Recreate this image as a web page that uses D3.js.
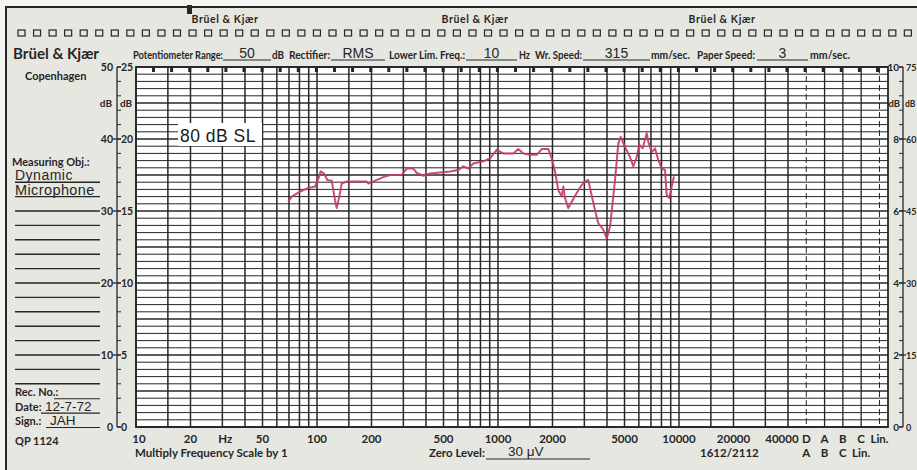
<!DOCTYPE html>
<html><head><meta charset="utf-8">
<script src="https://cdn.jsdelivr.net/npm/d3@7"></script>
<style>body{margin:0;background:#fff;} svg{display:block}</style>
</head><body><svg id="c" width="917" height="470"></svg>
<script>
// ---------- data ----------
const freqHz = [69.4,72.5,80.6,89.5,97.5,101.7,104.8,109.3,114,120.6,125.8,128.5,132.8,136.9,145.9,188.2,192,232.5,253.2,293.8,313,340.4,355.5,386.6,421,543,603.6,643.3,685.5,730.4,829.6,903.4,983.5,1070,1215,1295,1380,1503,1636,1744,1897,1980,2065,2153,2248,2295,2345,2446,2555,2721,2900,3025,3155,3224,3435,3583,3818,3987,4158,4431,4621,4764,5030,5361,5591,5839,6035,6301,6630,6767,7066,7369,7686,8025,8370,8552,8839,9114,9385];
const levelDb = [31.3,32.0,32.7,33.2,33.4,34.5,35.5,35.2,34.3,34.2,31.5,30.4,32.0,33.8,34.1,34.1,33.8,34.7,35.0,35.0,35.9,35.9,35.3,34.9,35.2,35.5,35.7,36.2,35.9,36.6,36.9,37.3,38.5,38.0,38.0,38.6,38.0,37.8,37.8,38.6,38.6,37.3,35.5,32.9,32.0,33.4,31.8,30.4,31.3,32.5,33.6,34.1,34.3,33.2,30.1,28.3,27.4,26.2,27.8,34.3,39.4,40.3,38.9,37.5,36.2,37.5,39.2,38.7,40.8,39.6,38.2,38.7,37.1,35.9,35.7,32.2,31.8,33.4,34.8];
const gridFreqs = [10,15,20,30,40,50,60,70,80,90,100,150,200,300,400,500,600,700,800,900,1000,1500,2000,3000,4000,5000,6000,7000,8000,9000,10000,15000,20000,30000,40000];
const freqLabels = [10,20,50,100,200,500,1000,2000,5000,10000,20000,40000];
const weightCols = ["D","A","B","C","Lin."];
const weightRow2 = ["A","B","C","Lin."];
const leftOuter = [0,10,20,30,40,50];
const leftInner = [0,5,10,15,20,25];
const rightInner = [0,2,4,6,8,10];
const rightOuter = [0,15,30,45,60,75];
const headerFields = [
  {label:"Potentiometer Range:", value:"50", unit:"dB"},
  {label:"Rectifier:", value:"RMS", unit:""},
  {label:"Lower Lim. Freq.:", value:"10", unit:"Hz"},
  {label:"Wr. Speed:", value:"315", unit:"mm/sec."},
  {label:"Paper Speed:", value:"3", unit:"mm/sec."}
];
const annotation = "80 dB SL";

// ---------- layout (text placement on the printed form) ----------
const headerLayout = [
  {lx:133, lw:90, u1:223, u2:271, ux:272, uw:12},
  {lx:289, lw:41, u1:331, u2:385},
  {lx:389, lw:76, u1:466, u2:517, ux:519, uw:11},
  {lx:535, lw:47, u1:583, u2:650, ux:651, uw:39},
  {lx:697, lw:58, u1:757, u2:808, ux:810, uw:40}
];

// ---------- setup ----------
const svg = d3.select("#c");
const paper = "#e7e7e2", ink = "#262626", bold = "Lato, 'DejaVu Sans', sans-serif", hand = "'Liberation Sans', Arial, sans-serif";
const L = 136, R = 888, T = 67, B = 427;
const x = d3.scaleLog().domain([10, 10000]).range([L, 679]);
const y = d3.scaleLinear().domain([0, 50]).range([B, T]);
const yInner = d3.scaleLinear().domain([0, 25]).range([B, T]);
const yR = d3.scaleLinear().domain([0, 10]).range([B, T]);
const yR2 = d3.scaleLinear().domain([0, 75]).range([B, T]);
const xw = d3.scalePoint().domain(weightCols).range([x(40000) + 18.3, x(40000) + 18.3 * 5]);

function btext(g, x0, y0, s, size, anchor) {
  return g.append("text").attr("x",x0).attr("y",y0).attr("font-family",bold).attr("font-weight",700)
    .attr("font-size",size).attr("fill",ink).attr("text-anchor",anchor||"start").text(s);
}

svg.append("rect").attr("x",0).attr("y",0).attr("width",917).attr("height",470).attr("fill","#f4f4f2");
svg.append("rect").attr("x",5).attr("y",7).attr("width",912).attr("height",463).attr("fill",paper);
svg.append("line").attr("x1",5).attr("x2",917).attr("y1",7).attr("y2",7).attr("stroke",ink).attr("stroke-width",2);
svg.append("line").attr("x1",6).attr("x2",6).attr("y1",7).attr("y2",470).attr("stroke",ink).attr("stroke-width",2);
svg.append("rect").attr("x",187).attr("y",5).attr("width",5).attr("height",9).attr("fill",ink);

// top brand labels
[225, 475, 722].forEach(cx => btext(svg, cx, 23, "Brüel & Kjær", 10.5, "middle").attr("letter-spacing",0.6));
// sprocket squares
svg.append("g").selectAll("rect").data(d3.range(0, 58)).join("rect")
  .attr("x", i => 18 + i * 15.55).attr("y", 30).attr("width",7).attr("height",6)
  .attr("fill","none").attr("stroke",ink).attr("stroke-width",1.2);

// big brand
btext(svg, 13, 59, "Brüel & Kjær", 15.5).attr("textLength", 86).attr("lengthAdjust","spacingAndGlyphs");
btext(svg, 25, 80, "Copenhagen", 11);

// header fields
(function(){
  const g = svg.append("g");
  const base = 59;
  headerFields.forEach((f, i) => {
    const p = headerLayout[i];
    btext(g, p.lx, base, f.label, 10.8).attr("textLength", p.lw).attr("lengthAdjust","spacingAndGlyphs");
    g.append("line").attr("x1",p.u1).attr("x2",p.u2).attr("y1",base+1).attr("y2",base+1).attr("stroke",ink).attr("stroke-width",1);
    g.append("text").attr("x",(p.u1+p.u2)/2).attr("y",base-1).attr("font-family",hand).attr("font-size",14)
      .attr("text-anchor","middle").attr("fill",ink).text(f.value);
    if (f.unit) btext(g, p.ux, base, f.unit, 10.8).attr("textLength", p.uw).attr("lengthAdjust","spacingAndGlyphs");
  });
})();

// plot area
svg.append("rect").attr("x",L).attr("y",T).attr("width",R-L).attr("height",B-T).attr("fill","#fff");
const grid = svg.append("g");
grid.selectAll("line.h").data(d3.range(0, 51)).join("line")
  .attr("x1",L).attr("x2",R).attr("y1",d=>y(d)).attr("y2",d=>y(d))
  .attr("stroke",ink).attr("stroke-width",d => d % 10 === 0 ? 1.7 : (d % 5 === 0 ? 1.3 : 1.0));
grid.selectAll("line.v").data(gridFreqs).join("line")
  .attr("x1",d=>x(d)).attr("x2",d=>x(d)).attr("y1",T).attr("y2",B)
  .attr("stroke",ink).attr("stroke-width",1.5);
grid.selectAll("line.w").data(weightCols).join("line")
  .attr("x1",d=>xw(d)).attr("x2",d=>xw(d)).attr("y1",T).attr("y2",B)
  .attr("stroke",ink).attr("stroke-width",d => (d==="D"||d==="Lin.") ? 1 : 1.3)
  .attr("stroke-dasharray",d => (d==="D"||d==="Lin.") ? "6,3" : null);
svg.append("rect").attr("x",L).attr("y",T).attr("width",R-L).attr("height",B-T).attr("fill","none").attr("stroke",ink).attr("stroke-width",1.8);
// time marks
svg.append("g").selectAll("rect").data(d3.range(0, 41)).join("rect")
  .attr("x", i => 152 + i * 18.1).attr("y", T + 1).attr("width",3).attr("height",4).attr("fill",ink);

// annotation
svg.append("rect").attr("x",178).attr("y",123).attr("width",84).attr("height",23).attr("fill","#fff");
svg.append("text").attr("x",180).attr("y",142).attr("font-family",hand).attr("font-size",17.5).attr("letter-spacing",0.5).attr("fill","#1a1a1a").text(annotation);

// response curve
svg.append("path").datum(freqHz.map((f,i)=>[f, levelDb[i]]))
  .attr("d", d3.line().x(d=>x(d[0])).y(d=>y(d[1])))
  .attr("fill","none").attr("stroke","#c43a66").attr("stroke-width",2).attr("stroke-linejoin","round").attr("opacity",0.9);

// left axis
const la = svg.append("g");
la.append("line").attr("x1",117).attr("x2",117).attr("y1",T).attr("y2",B).attr("stroke",ink).attr("stroke-width",1.3);
la.selectAll("line.m").data(d3.range(0, 51, 2)).join("line")
  .attr("x1",117).attr("x2",121).attr("y1",d=>y(d)).attr("y2",d=>y(d)).attr("stroke",ink).attr("stroke-width",1);
la.selectAll("line.M").data(leftOuter).join("line")
  .attr("x1",d => (d===0||d===50) ? 117 : 113).attr("x2",121).attr("y1",d=>y(d)).attr("y2",d=>y(d)).attr("stroke",ink).attr("stroke-width",1.3);
la.selectAll("text.o").data(leftOuter).join("text").attr("x",113).attr("y",d=>y(d)+3.5).attr("text-anchor","end")
  .attr("font-family",bold).attr("font-weight",700).attr("font-size",10.5).attr("fill",ink).text(d=>d);
la.selectAll("text.i").data(leftInner).join("text").attr("x",121).attr("y",d=>yInner(d)+3.5)
  .attr("font-family",bold).attr("font-weight",700).attr("font-size",10.5).attr("fill",ink).text(d=>d);
btext(la, 112, y(45)+3.5, "dB", 10, "end");
btext(la, 120, y(45)+3.5, "dB", 10);

// right axis
const ra = svg.append("g");
ra.append("line").attr("x1",903).attr("x2",903).attr("y1",T).attr("y2",B).attr("stroke",ink).attr("stroke-width",1.3);
ra.selectAll("line.m").data(d3.range(0, 51, 2)).join("line")
  .attr("x1",899).attr("x2",903).attr("y1",d=>y(d)).attr("y2",d=>y(d)).attr("stroke",ink).attr("stroke-width",1);
ra.selectAll("line.M").data(rightInner).join("line")
  .attr("x1",899).attr("x2",d => (d===0||d===10) ? 903 : 906).attr("y1",d=>yR(d)).attr("y2",d=>yR(d)).attr("stroke",ink).attr("stroke-width",1.3);
ra.selectAll("text.o").data(rightInner).join("text").attr("x",899).attr("y",d=>yR(d)+3.5).attr("text-anchor","end")
  .attr("font-family",bold).attr("font-weight",700).attr("font-size",10).attr("fill",ink).text(d=>d);
ra.selectAll("text.i").data(rightOuter).join("text").attr("x",906).attr("y",d=>yR2(d)+3.5)
  .attr("font-family",bold).attr("font-weight",700).attr("font-size",9).attr("fill",ink).text(d=>d);
btext(ra, 900, y(45)+3.5, "dB", 9.5, "end");
btext(ra, 905, y(45)+3.5, "dB", 8.5);

// left form
const lf = svg.append("g");
lf.selectAll("line").data(d3.range(6, 35, 2)).join("line")
  .attr("x1",15).attr("x2",100).attr("y1",d=>y(d)).attr("y2",d=>y(d)).attr("stroke",ink).attr("stroke-width",1.4);
btext(lf, 12, 166, "Measuring Obj.:", 11);
lf.append("text").attr("x",15).attr("y",y(34)-2).attr("font-family",hand).attr("font-size",14).attr("letter-spacing",0.5).attr("fill",ink).text("Dynamic");
lf.append("text").attr("x",15).attr("y",y(32)-2).attr("font-family",hand).attr("font-size",14.5).attr("letter-spacing",0.4).attr("fill",ink).text("Microphone");
const formRows = [{lab:"Rec. No.:", val:"", db:4, vx:58},{lab:"Date:", val:"12-7-72", db:2, vx:45},{lab:"Sign.:", val:"JAH", db:0, vx:50}];
formRows.forEach(r => {
  btext(lf, 15, y(r.db)-2, r.lab, 11);
  lf.append("line").attr("x1",r.vx-4).attr("x2",100).attr("y1",y(r.db)+0.5).attr("y2",y(r.db)+0.5).attr("stroke",ink).attr("stroke-width",1.1);
  if (r.val) lf.append("text").attr("x",r.vx).attr("y",y(r.db)-2).attr("font-family",hand).attr("font-size",13.5).attr("fill",ink).text(r.val);
});
btext(lf, 15, 445, "QP 1124", 11);

// frequency labels
const fl = svg.append("g").attr("font-family",bold).attr("font-weight",700).attr("font-size",11.5).attr("fill",ink);
fl.selectAll("text.f").data(freqLabels).join("text").attr("x",d => d===10 ? x(d)+3 : (d===40000 ? x(d)-6 : x(d))).attr("y",443)
  .attr("text-anchor","middle").text(d=>d);
fl.append("text").attr("x",x(30)+3).attr("y",443).attr("text-anchor","middle").text("Hz");
fl.selectAll("text.w").data(weightCols).join("text").attr("x",d=>xw(d)).attr("y",443).attr("text-anchor","middle").text(d=>d);
fl.selectAll("text.w2").data(weightRow2).join("text").attr("x",(d,i)=>xw(weightCols[i])).attr("y",457).attr("text-anchor","middle").text(d=>d);
fl.append("text").attr("x",135).attr("y",457).text("Multiply Frequency Scale by 1");
fl.append("text").attr("x",429).attr("y",457).text("Zero Level:");
fl.append("text").attr("x",700).attr("y",457).text("1612/2112");
svg.append("line").attr("x1",486).attr("x2",590).attr("y1",459).attr("y2",459).attr("stroke",ink).attr("stroke-width",1);
svg.append("text").attr("x",508).attr("y",456).attr("font-family",hand).attr("font-size",13.5).attr("fill",ink).text("30 μV");
</script>
</body></html>
